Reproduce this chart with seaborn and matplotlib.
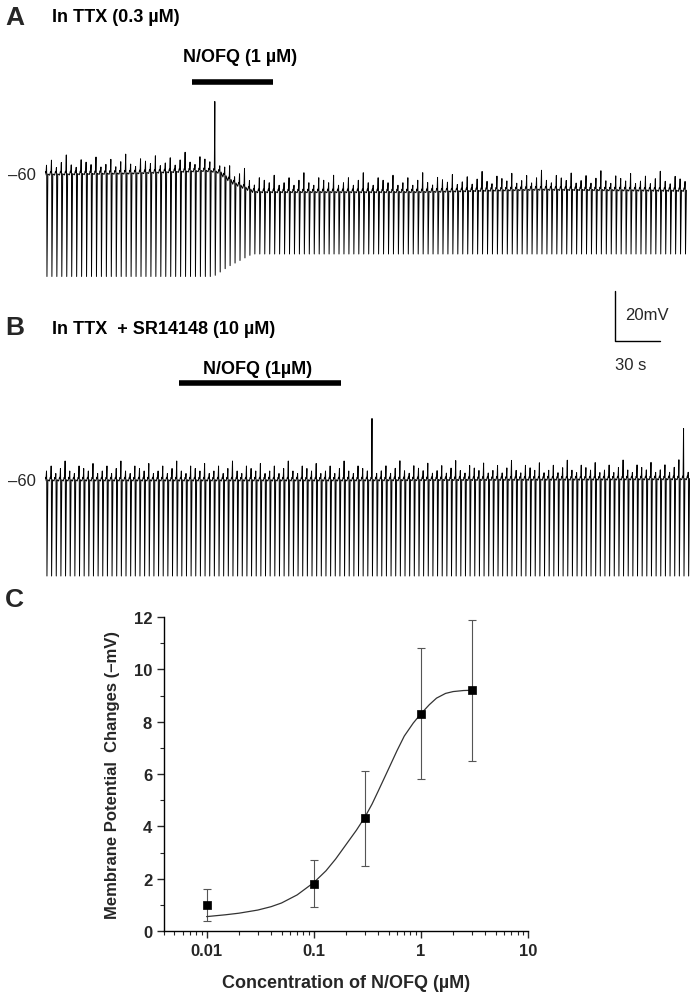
import numpy as np
import pandas as pd
import matplotlib
matplotlib.use("Agg")
import matplotlib.pyplot as plt
import seaborn as sns

sns.set_style("white")
plt.rcParams['font.family'] = ['Liberation Sans', 'DejaVu Sans']

# ---- panel C data ----
conc = [0.01, 0.1, 0.3, 1, 3]
mp_change = [1.0, 1.8, 4.3, 8.3, 9.2]
err_lo = [0.6, 0.9, 1.8, 2.5, 2.7]
err_hi = [0.6, 0.9, 1.8, 2.5, 2.7]
fit_x = [0.01, 0.015, 0.02, 0.03, 0.04, 0.05, 0.07, 0.1, 0.13, 0.16, 0.2, 0.25, 0.3, 0.35,
         0.4, 0.5, 0.6, 0.7, 0.85, 1.0, 1.2, 1.4, 1.7, 2.0, 2.5, 3.0]
fit_y = [0.55, 0.62, 0.68, 0.8, 0.93, 1.07, 1.38, 1.85, 2.3, 2.75, 3.3, 3.85, 4.35, 4.85,
         5.35, 6.2, 6.9, 7.45, 7.95, 8.3, 8.65, 8.9, 9.08, 9.15, 9.19, 9.2]

# ---- trace data (time s, potential mV) ----
dur = 430
period_a, period_b = 3.3, 3.1
base_a_t = [0, 60, 108, 116, 126, 140, 250, 330, 430]
base_a_v = [-60.5, -60, -59, -59.5, -64, -67.5, -67.5, -66.5, -67]
trough_a_t = [0, 112, 122, 138, 430]
trough_a_v = [-101, -101, -97, -92, -92]
base_b_t = [0, 200, 430]
base_b_v = [-60, -60, -59.5]
trough_b_t = [0, 430]
trough_b_v = [-98, -98]
overshoot = [4, 6, 3, 5, 8, 4, 3, 6, 5, 4, 7, 3]
big_a = (112, -31)
big_b = [(217, -35), (425, -39)]
bar_a = (98, 152)
bar_b = (89, 197)


def make_trace(period, bt, bv, tt, tv, bigs):
    ts, vs = [], []
    spikes = np.arange(1.0, dur, period)
    for i, s in enumerate(spikes):
        b = np.interp(s, bt, bv)
        up = b + overshoot[i % len(overshoot)]
        for bt_, bvv in bigs:
            if abs(s - bt_) < period / 2:
                up = bvv
        tr = np.interp(s, tt, tv)
        ts += [s - 1.2, s - 0.6, s - 0.3, s, s + 0.15, s + 0.3, s + 0.9]
        vs += [b, b + 1.5, b + 1, up, b, tr, b + 0.5]
    return pd.DataFrame({"t": ts, "v": vs})


fig = plt.figure(figsize=(7, 9.95), dpi=100)
W, H = 700, 995


def fx(px):
    return px / W


def fy(py):
    return 1 - py / H


def trace_axes(top, bot, vtop, vbot):
    ax = fig.add_axes([fx(45), fy(bot), fx(645), (bot - top) / H])
    ax.set_xlim(0, dur)
    ax.set_ylim(vbot, vtop)
    ax.axis("off")
    return ax


ax_a = trace_axes(90, 285, -26, -104)
df_a = make_trace(period_a, base_a_t, base_a_v, trough_a_t, trough_a_v, [big_a])
sns.lineplot(data=df_a, x="t", y="v", sort=False, estimator=None, color="black", lw=0.7, ax=ax_a)
ax_a.plot(bar_a, [-23.2, -23.2], color="black", lw=4, clip_on=False, solid_capstyle="butt")

ax_b = trace_axes(400, 590, -27.2, -103.2)
df_b = make_trace(period_b, base_b_t, base_b_v, trough_b_t, trough_b_v, big_b)
sns.lineplot(data=df_b, x="t", y="v", sort=False, estimator=None, color="black", lw=0.7, ax=ax_b)
ax_b.plot(bar_b, [-20.8, -20.8], color="black", lw=4, clip_on=False, solid_capstyle="butt")

tkw = dict(fontsize=13, fontweight="bold", va="center", color="black")
fig.text(fx(5), fy(18), "A", fontsize=19, fontweight="bold", va="center")
fig.text(fx(52), fy(18), "In TTX (0.3 µM)", **tkw)
fig.text(fx(240), fy(57), "N/OFQ (1 µM)", ha="center", **tkw)
fig.text(fx(5), fy(328), "B", fontsize=19, fontweight="bold", va="center")
fig.text(fx(52), fy(330), "In TTX  + SR14148 (10 µM)", **tkw)
fig.text(fx(258), fy(370), "N/OFQ (1µM)", ha="center", **tkw)
fig.text(fx(5), fy(600), "C", fontsize=19, fontweight="bold", va="center")
fig.text(fx(8), fy(175), "–60", fontsize=12, va="center")
fig.text(fx(8), fy(482), "–60", fontsize=12, va="center")

# scale bar
fig.add_artist(plt.Line2D([fx(615), fx(615), fx(660)], [fy(292), fy(342), fy(342)],
                          color="black", lw=1))
fig.text(fx(625), fy(316), "20mV", fontsize=12, va="center")
fig.text(fx(615), fy(366), "30 s", fontsize=12, va="center")

# ---- panel C ----
ax_c = fig.add_axes([fx(164), fy(932), fx(364), (932 - 618) / H])
ax_c.errorbar(conc, mp_change, yerr=[err_lo, err_hi], fmt="none", ecolor="#555555",
              elinewidth=0.8, capsize=3, capthick=0.8)
sns.lineplot(x=fit_x, y=fit_y, color="#333333", lw=0.9, ax=ax_c)
sns.scatterplot(x=conc, y=mp_change, marker="s", color="black", s=40, edgecolor="black", ax=ax_c, zorder=5)
ax_c.set_xscale("log")
ax_c.set_xlim(0.004, 10)
ax_c.set_ylim(0, 12)
ax_c.set_yticks([0, 2, 4, 6, 8, 10, 12])
ax_c.set_yticks(np.arange(1, 12, 2), minor=True)
ax_c.set_xticks([0.01, 0.1, 1, 10])
ax_c.set_xticklabels(["0.01", "0.1", "1", "10"])
for s in ["top", "right"]:
    ax_c.spines[s].set_visible(False)
for s in ["left", "bottom"]:
    ax_c.spines[s].set_color("black")
    ax_c.spines[s].set_linewidth(1)
ax_c.tick_params(which="major", direction="out", length=5, width=1, labelsize=12, bottom=True, left=True)
ax_c.tick_params(which="minor", direction="out", length=3, width=0.8, bottom=True, left=True)
for lab in ax_c.get_xticklabels() + ax_c.get_yticklabels():
    lab.set_fontweight("bold")
ax_c.set_xlabel("Concentration of N/OFQ (µM)", fontsize=13, fontweight="bold", labelpad=12)
ax_c.set_ylabel("Membrane Potential  Changes (–mV)", fontsize=12, fontweight="bold", labelpad=10)

fig.savefig("out.png", dpi=100)
